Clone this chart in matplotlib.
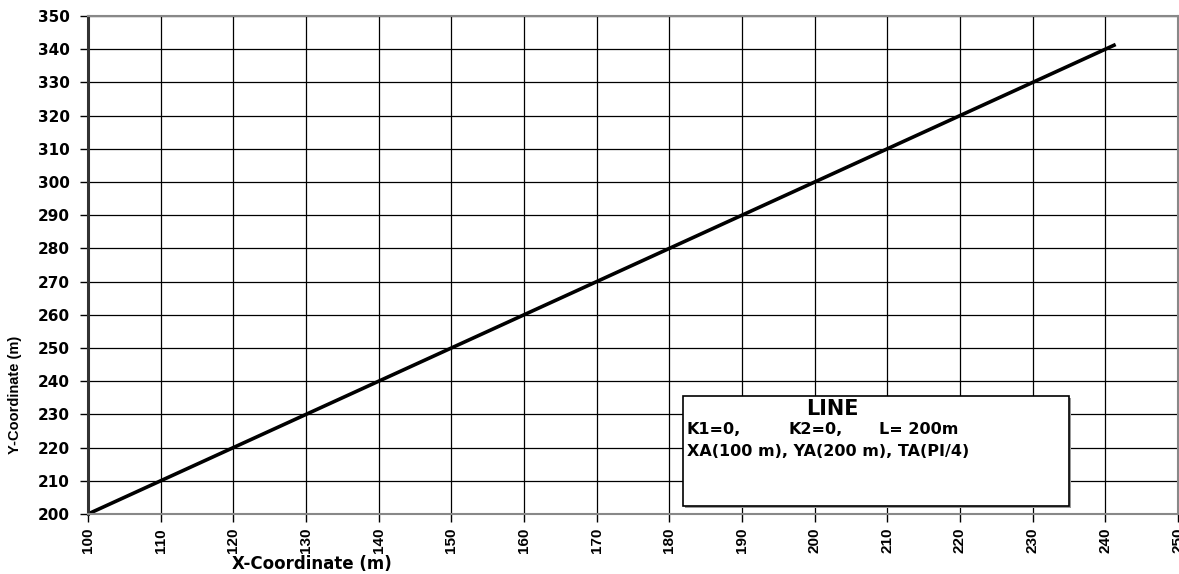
import numpy as np
import matplotlib
matplotlib.use("Agg")
import matplotlib.pyplot as plt

plt.rcParams['font.family'] = ['Liberation Sans', 'DejaVu Sans']

# line element: start point, heading and length
xa, ya = 100.0, 200.0
ta = np.pi / 4
length = 200.0
s = np.array([0.0, length])
x = xa + s * np.cos(ta)
y = ya + s * np.sin(ta)

x_ticks = np.arange(100, 251, 10)
y_ticks = np.arange(200, 351, 10)

W, H = 1179, 574
fig = plt.figure(figsize=(W / 100, H / 100), dpi=100)
ax = fig.add_axes([88 / W, (H - 514) / H, (1178 - 88) / W, (514 - 16) / H])

ax.plot(x, y, color='black', lw=2.6, solid_capstyle='butt')

ax.set_xlim(100, 250)
ax.set_ylim(200, 350)
ax.set_xticks(x_ticks)
ax.set_yticks(y_ticks)
ax.grid(True, color='black', lw=0.9)
ax.set_axisbelow(True)
for lab in ax.get_xticklabels():
    lab.set_rotation(90)
    lab.set_fontweight('bold')
    lab.set_fontsize(11)
for lab in ax.get_yticklabels():
    lab.set_fontweight('bold')
    lab.set_fontsize(11)
    lab.set_family('DejaVu Sans')
ax.tick_params(axis='x', direction='out', length=6, width=1, pad=4)
ax.tick_params(axis='y', direction='out', length=6, width=1, pad=7)

for side in ['top', 'right', 'bottom']:
    ax.spines[side].set_color('#888888')
    ax.spines[side].set_linewidth(1.5)
ax.spines['left'].set_color('#333333')
ax.spines['left'].set_linewidth(2.2)

fig.text(312 / W, 1 - 564 / H, 'X-Coordinate (m)', ha='center', va='center',
         fontsize=12, fontweight='bold', family='DejaVu Sans')
fig.text(15 / W, 1 - 395 / H, 'Y-Coordinate (m)', ha='center', va='center',
         rotation=90, fontsize=10.5, fontweight='bold')

# info box
def ax_xy(px, py):
    return (px - 88) / 1090, (514 - py) / 498

bx0, by1 = ax_xy(683, 396)
bx1, by0 = ax_xy(1069, 506)
shadow = plt.Rectangle((bx0 + 0.002, by0 - 0.004), bx1 - bx0, by1 - by0,
                       transform=ax.transAxes, facecolor='#999999',
                       edgecolor='none', zorder=4)
box = plt.Rectangle((bx0, by0), bx1 - bx0, by1 - by0, transform=ax.transAxes,
                    facecolor='white', edgecolor='black', lw=1.2, zorder=5)
ax.add_patch(shadow)
ax.add_patch(box)

box_font = dict(transform=ax.transAxes, va='center', fontweight='bold',
                family='DejaVu Sans', zorder=6)
ax.text(*ax_xy(832, 409), 'LINE', ha='center', fontsize=15, **box_font)
ax.text(*ax_xy(687, 430), 'K1=0,', ha='left', fontsize=11.5, **box_font)
ax.text(*ax_xy(789, 430), 'K2=0,', ha='left', fontsize=11.5, **box_font)
ax.text(*ax_xy(879, 430), 'L= 200m', ha='left', fontsize=11.5, **box_font)
ax.text(*ax_xy(687, 452), 'XA(100 m), YA(200 m), TA(PI/4)', ha='left',
        fontsize=11.5, **box_font)

fig.savefig('out.png', dpi=100)
